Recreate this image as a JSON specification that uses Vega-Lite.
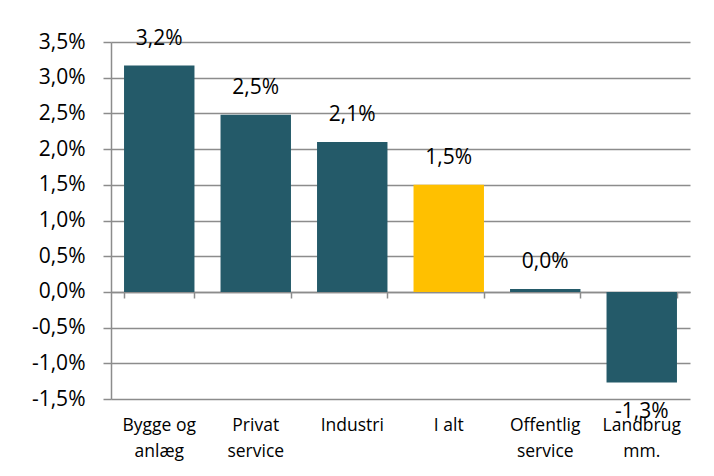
{
  "$schema": "https://vega.github.io/schema/vega-lite/v6.json",
  "width": 579,
  "height": 357,
  "autosize": {"type": "none"},
  "padding": {"left": 111, "top": 42, "right": 24, "bottom": 77},
  "background": "white",
  "config": {
    "locale": {"number": {"decimal": ",", "thousands": ".", "grouping": [3], "currency": ["", " kr."], "minus": "-"}},
    "view": {"stroke": null},
    "font": "Open Sans"
  },
  "data": {
    "values": [
      {"sektor": "Bygge og anlæg", "value": 0.0317, "type": "sektor"},
      {"sektor": "Privat service", "value": 0.0248, "type": "sektor"},
      {"sektor": "Industri", "value": 0.0210, "type": "sektor"},
      {"sektor": "I alt", "value": 0.0150, "type": "total"},
      {"sektor": "Offentlig service", "value": 0.0004, "type": "sektor"},
      {"sektor": "Landbrug mm.", "value": -0.0127, "type": "sektor"}
    ]
  },
  "layer": [
    {
      "mark": {"type": "bar"},
      "encoding": {
        "x": {
          "field": "sektor", "type": "nominal", "sort": null,
          "scale": {"paddingInner": 0.27, "paddingOuter": 0.135},
          "axis": {
            "orient": "bottom", "title": null, "domain": false, "ticks": false, "tickSize": 0, "grid": false,
            "labelAngle": 0, "labelPadding": 17, "labelFontSize": 17.5, "labelFont": "Open Sans", "labelColor": "#000000",
            "labelLineHeight": 26, "labelBaseline": "top", "labelOverlap": false,
            "labelExpr": "datum.label == 'Bygge og anlæg' ? ['Bygge og', 'anlæg'] : datum.label == 'Privat service' ? ['Privat', 'service'] : datum.label == 'Offentlig service' ? ['Offentlig', 'service'] : datum.label == 'Landbrug mm.' ? ['Landbrug', 'mm.'] : datum.label"
          }
        },
        "y": {
          "field": "value", "type": "quantitative",
          "scale": {"domain": [-0.015, 0.035], "nice": false, "zero": false},
          "axis": {
            "title": null,
            "values": [-0.015, -0.01, -0.005, 0, 0.005, 0.01, 0.015, 0.02, 0.025, 0.03, 0.035],
            "tickCount": 12,
            "format": ".1%", "labelOverlap": false, "labelFlush": false,
            "grid": true, "gridColor": "#8c8c8c", "gridWidth": 1.5,
            "domain": true, "domainColor": "#8c8c8c", "domainWidth": 1.5,
            "ticks": true, "tickColor": "#8c8c8c", "tickWidth": 1.5, "tickSize": 8,
            "labelPadding": 18, "labelFontSize": 21, "labelFont": "Open Sans", "labelColor": "#000000"
          }
        },
        "color": {
          "field": "type", "type": "nominal",
          "scale": {"domain": ["sektor", "total"], "range": ["#245A69", "#FFC000"]},
          "legend": null
        }
      }
    },
    {
      "transform": [{"filter": "datum.value >= 0"}],
      "mark": {"type": "text", "dy": -27, "baseline": "middle", "fontSize": 21, "font": "Open Sans", "color": "#000000"},
      "encoding": {
        "x": {
          "field": "sektor", "type": "nominal", "sort": null,
          "axis": {
            "orient": "bottom", "offset": -107, "title": null, "labels": false, "grid": false,
            "domain": true, "domainColor": "#8c8c8c", "domainWidth": 1.5,
            "ticks": true, "tickBand": "extent", "tickSize": 6, "tickColor": "#8c8c8c", "tickWidth": 1.5
          }
        },
        "y": {"field": "value", "type": "quantitative"},
        "text": {"field": "value", "type": "quantitative", "format": ".1%"}
      }
    },
    {
      "transform": [{"filter": "datum.value < 0"}],
      "mark": {"type": "text", "dy": 29, "baseline": "middle", "fontSize": 21, "font": "Open Sans", "color": "#000000"},
      "encoding": {
        "x": {"field": "sektor", "type": "nominal", "sort": null, "axis": null},
        "y": {"field": "value", "type": "quantitative"},
        "text": {"field": "value", "type": "quantitative", "format": ".1%"}
      }
    }
  ],
  "resolve": {"axis": {"x": "independent"}}
}
